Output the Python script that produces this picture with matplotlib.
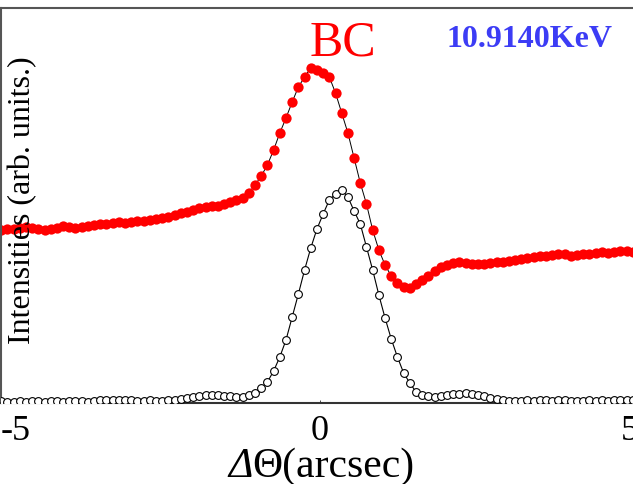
import numpy as np
import matplotlib
matplotlib.use("Agg")
import matplotlib.pyplot as plt
import matplotlib.transforms as mtransforms

plt.rcParams['font.family'] = ['Liberation Serif', 'DejaVu Serif']
plt.rcParams['axes.unicode_minus'] = False

# ---------- data (arb. units) ----------
# angular scan, 0.1 arcsec steps
theta = np.round(-5.15 + 0.1 * np.arange(103), 2)

bc = [173, 174, 174, 175, 176, 175, 174, 173, 174, 175,
      177, 176, 175, 176, 177, 178, 179, 179, 180, 181,
      180, 181, 182, 182, 183, 184, 185, 186, 188, 190,
      191, 193, 195, 196, 197, 197, 199, 201, 203, 205,
      210, 218, 227, 238, 253, 270, 285, 301, 316, 326,
      335, 333, 330, 326, 310, 290, 270, 245, 220, 199,
      173, 153, 138, 127, 120, 116, 115, 119, 123, 127,
      132, 136, 138, 140, 141, 140, 139, 139, 139, 140,
      141, 141, 142, 143, 144, 145, 146, 147, 147, 148,
      149, 149, 147, 148, 149, 149, 150, 151, 150, 151,
      152, 152, 151]

ref = [2, 1, 1, 2, 1, 2, 2, 1, 2, 2,
       1, 2, 2, 2, 1, 2, 3, 3, 3, 3,
       3, 3, 2, 2, 3, 2, 2, 3, 3, 4,
       5, 6, 7, 8, 8, 8, 7, 7, 6, 6,
       8, 10, 15, 21, 32, 46, 63, 86, 109, 133,
       155, 174, 189, 203, 209, 213, 206, 192, 179, 156,
       133, 108, 85, 64, 46, 30, 20, 11, 8, 7,
       6, 7, 8, 9, 9, 10, 9, 8, 7, 5,
       4, 3, 2, 2, 2, 3, 2, 3, 3, 2,
       3, 3, 2, 2, 2, 3, 2, 3, 2, 3,
       3, 3, 3]

xticks = [-5, 0, 5]
xtick_labels = ['-5', '0', '5']

# ---------- figure ----------
fig = plt.figure(figsize=(6.33, 4.84), dpi=100)
ax = fig.add_axes([1 / 633, 81 / 484, 641 / 633, 395 / 484])

ax.plot(theta, bc, color='black', lw=0.7, marker='o', ms=7.4,
        mfc='#ff0000', mec='#ff0000', mew=0, zorder=2)
ax.plot(theta, ref, color='black', lw=0.8, marker='o', ms=5.6,
        mfc='white', mec='black', mew=0.8, zorder=3)

ax.set_xlim(-5.153, 5.2)
ax.set_ylim(0, 395)
ax.set_xticks(xticks)
ax.set_xticklabels(xtick_labels)
ax.set_yticks([])
ax.tick_params(axis='x', direction='in', length=2, width=0.5, pad=9, labelsize=26)

# first label sits inside the figure edge
first = ax.get_xticklabels()[0]
first.set_transform(first.get_transform() + mtransforms.ScaledTranslation(0.05, 0, fig.dpi_scale_trans))

ax.spines['right'].set_visible(False)
ax.spines['top'].set_color('#555555')
ax.spines['left'].set_color('#555555')
ax.spines['bottom'].set_color('#333333')
for s in ['top', 'left', 'bottom']:
    ax.spines[s].set_linewidth(1.5)

ax.text(0.37, 348, 'BC', color='#ff0000', fontsize=36, ha='center', va='baseline')
ax.text(3.38, 356, '10.9140KeV', color='#3c3cf5', fontsize=23, fontweight='bold',
        ha='center', va='baseline')
ax.text(0.034, 0.514, 'Intensities (arb. units.)', transform=ax.transAxes,
        rotation=90, fontsize=23, ha='center', va='center')

# x label: italic delta + upright theta
fig.text(253 / 633, 7 / 484, 'Δ', fontsize=30, fontstyle='italic',
         ha='right', va='baseline')
fig.text(252 / 633, 7 / 484, 'Θ(arcsec)', fontsize=30, ha='left', va='baseline')

fig.savefig('out.png', dpi=100)
